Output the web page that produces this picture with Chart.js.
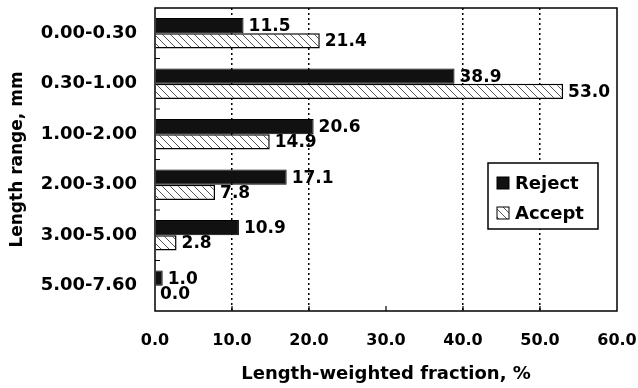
<!DOCTYPE html>
<html>
<head>
<meta charset="utf-8">
<script src="https://cdn.jsdelivr.net/npm/chart.js@4.4.0/dist/chart.umd.min.js"></script>
<style>
  html, body { margin: 0; padding: 0; background: #fff; }
  #wrap { width: 638px; height: 388px; position: relative; }
</style>
</head>
<body>
<div id="wrap"><canvas id="chart"></canvas></div>
<script>
// Daten
const categories = ['0.00-0.30', '0.30-1.00', '1.00-2.00', '2.00-3.00', '3.00-5.00', '5.00-7.60'];
const rejectValues = [11.5, 38.9, 20.6, 17.1, 10.9, 1.0];
const acceptValues = [21.4, 53.0, 14.9, 7.8, 2.8, 0.0];
const seriesNames = ['Reject', 'Accept'];
const xTicks = [0, 10, 20, 30, 40, 50, 60];
const gridValues = [10, 20, 40, 50];

const FONT = '"DejaVu Sans", "Liberation Sans", Arial, sans-serif';

const canvas = document.getElementById('chart');
const ctx = canvas.getContext('2d');

// Schraffur fuer "Accept"
const makeHatch = () => {
    const p = document.createElement('canvas');
    p.width = 8;
    p.height = 8;
    const g = p.getContext('2d');
    g.fillStyle = '#fff';
    g.fillRect(0, 0, 8, 8);
    g.strokeStyle = '#555';
    g.lineWidth = 1;
    g.beginPath();
    g.moveTo(-1, -1); g.lineTo(9, 9);
    g.moveTo(-1, 7); g.lineTo(1, 9);
    g.moveTo(7, -1); g.lineTo(9, 1);
    g.stroke();
    return ctx.createPattern(p, 'repeat');
};
const hatch = makeHatch();

// Rahmen, Ticks, Werte und Legende
const decorations = {
    id: 'decorations',
    afterDatasetsDraw(chart) {
        const { ctx, chartArea: a, scales: { x, y } } = chart;
        ctx.save();

        // Werte an den Balken
        ctx.font = 'bold 17px ' + FONT;
        ctx.fillStyle = '#000';
        ctx.textBaseline = 'middle';
        ctx.textAlign = 'left';
        chart.data.datasets.forEach((ds, i) => {
            chart.getDatasetMeta(i).data.forEach((bar, j) => {
                ctx.fillText(ds.data[j].toFixed(1), bar.x + 5, bar.y + 1);
            });
        });

        // Rahmen
        ctx.strokeStyle = '#000';
        ctx.lineWidth = 1.5;
        ctx.strokeRect(a.left, a.top, a.right - a.left, a.bottom - a.top);

        // kleine Ticks innen
        ctx.lineWidth = 1.2;
        ctx.beginPath();
        for (let i = 0; i < categories.length - 1; i++) {
            const yy = (y.getPixelForTick(i) + y.getPixelForTick(i + 1)) / 2;
            ctx.moveTo(a.left, yy);
            ctx.lineTo(a.left + 5, yy);
        }
        xTicks.slice(1, -1).forEach(v => {
            const xx = x.getPixelForValue(v);
            ctx.moveTo(xx, a.bottom);
            ctx.lineTo(xx, a.bottom - 5);
        });
        ctx.stroke();

        // Legende
        const lx = a.right - 129;
        const ly = a.top + 155;
        ctx.fillStyle = '#fff';
        ctx.fillRect(lx, ly, 110, 66);
        ctx.lineWidth = 1.5;
        ctx.strokeRect(lx, ly, 110, 66);
        ctx.font = 'bold 18px ' + FONT;
        chart.data.datasets.forEach((ds, i) => {
            const cy = ly + 20 + i * 30;
            ctx.fillStyle = ds.backgroundColor;
            ctx.fillRect(lx + 9, cy - 6, 12, 12);
            ctx.lineWidth = 1;
            ctx.strokeRect(lx + 9, cy - 6, 12, 12);
            ctx.fillStyle = '#000';
            ctx.fillText(ds.label, lx + 27, cy + 1);
        });

        ctx.restore();
    }
};

new Chart(ctx, {
    type: 'bar',
    data: {
        labels: categories,
        datasets: [
            {
                label: seriesNames[0],
                data: rejectValues,
                backgroundColor: '#111',
                borderColor: '#000',
                borderWidth: 1,
                categoryPercentage: 0.6,
                barPercentage: 1.0
            },
            {
                label: seriesNames[1],
                data: acceptValues,
                backgroundColor: hatch,
                borderColor: '#000',
                borderWidth: 1.5,
                categoryPercentage: 0.6,
                barPercentage: 1.0
            }
        ]
    },
    options: {
        indexAxis: 'y',
        responsive: true,
        maintainAspectRatio: false,
        animation: false,
        layout: { padding: { top: 8, right: 21, left: 0, bottom: 0 } },
        plugins: {
            legend: { display: false },
            tooltip: { enabled: false }
        },
        scales: {
            x: {
                min: 0,
                max: 60,
                afterBuildTicks: s => { s.ticks = xTicks.map(v => ({ value: v })); },
                afterFit: s => {
                    s.height = 77;
                    s.paddingLeft = 0;
                    s.paddingRight = 0;
                },
                border: { display: false, dash: [2, 3] },
                grid: {
                    drawTicks: false,
                    lineWidth: 1.5,
                    color: c => gridValues.includes(c.tick && c.tick.value) ? '#000' : 'rgba(0,0,0,0)'
                },
                ticks: {
                    padding: 20,
                    color: '#000',
                    font: { family: FONT, size: 16, weight: 'bold' },
                    callback: v => v.toFixed(1)
                },
                title: {
                    display: true,
                    text: 'Length-weighted fraction, %',
                    color: '#000',
                    font: { family: FONT, size: 18, weight: 'bold' },
                    padding: { top: 0, bottom: 3 }
                }
            },
            y: {
                afterFit: s => {
                    s.width = 155;
                    s.paddingTop = 0;
                    s.paddingBottom = 0;
                },
                border: { display: false },
                grid: { display: false, drawTicks: false },
                ticks: {
                    padding: 18,
                    color: '#000',
                    font: { family: FONT, size: 18, weight: 'bold' }
                },
                title: {
                    display: true,
                    text: 'Length range, mm',
                    color: '#000',
                    font: { family: FONT, size: 17, weight: 'bold' },
                    padding: { top: 7, bottom: 0 }
                }
            }
        }
    },
    plugins: [decorations]
});
</script>
</body>
</html>
